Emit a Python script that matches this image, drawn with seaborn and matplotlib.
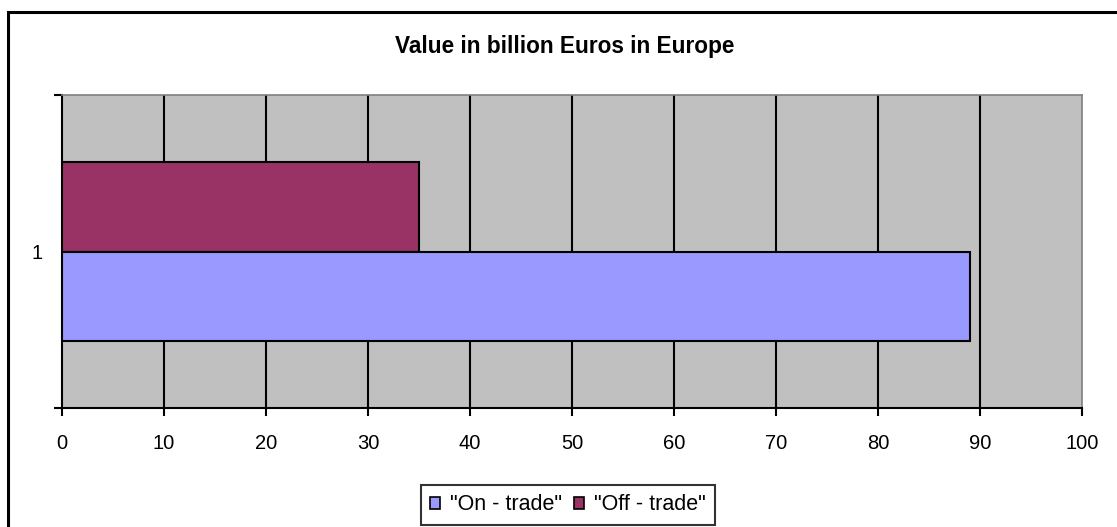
import matplotlib
matplotlib.use("Agg")
import matplotlib.pyplot as plt
from matplotlib.patches import Rectangle, Patch
import seaborn as sns
import pandas as pd

categories = ["1"]
on_trade = [89]
off_trade = [35]
series_names = ['"On - trade"', '"Off - trade"']
x_ticks = [0, 10, 20, 30, 40, 50, 60, 70, 80, 90, 100]
title = "Value in billion Euros in Europe"

colors = {series_names[0]: "#9999FF", series_names[1]: "#993366"}

df = pd.DataFrame({
    "category": categories * 2,
    "value": on_trade + off_trade,
    "series": [series_names[0]] * len(categories) + [series_names[1]] * len(categories),
})

sns.set_theme(style="white")
plt.rcParams["font.family"] = ["Liberation Sans", "DejaVu Sans"]
plt.rcParams["text.color"] = "black"
plt.rcParams["xtick.color"] = "black"
plt.rcParams["ytick.color"] = "black"

W, H = 1117, 527
fig = plt.figure(figsize=(W / 100, H / 100), dpi=100)
fig.patch.set_facecolor("white")
ax = fig.add_axes([62 / W, 1 - 408 / H, (1082 - 62) / W, (408 - 95) / H])
ax.set_facecolor("#C0C0C0")

sns.barplot(data=df, x="value", y="category", hue="series",
            hue_order=[series_names[1], series_names[0]],
            palette=colors, saturation=1, orient="h", width=0.8,
            edgecolor="black", linewidth=1.5, ax=ax, legend=False, zorder=3)

ax.set_xlim(0, 100)
ax.set_ylim(0.697, -0.697)
ax.set_xticks(x_ticks)
ax.set_xticklabels([str(t) for t in x_ticks], fontsize=14.5)
ax.set_yticks([0.697, -0.697], minor=False)
ax.set_yticklabels(["", ""])
ax.set_yticks([0], minor=True)
ax.set_yticklabels(categories, minor=True, fontsize=14.5)
ax.tick_params(axis="y", which="minor", length=0, pad=14)
ax.tick_params(axis="y", which="major", length=6, width=1.5, color="black", direction="out", left=True)
ax.tick_params(axis="x", length=6, width=1.5, color="black", direction="out", bottom=True, pad=13)
ax.set_xlabel("")
ax.set_ylabel("")

for t in x_ticks[1:-1]:
    ax.axvline(t, color="black", linewidth=1.5, zorder=1)

for side in ["left", "bottom"]:
    ax.spines[side].set_color("black")
    ax.spines[side].set_linewidth(1.5)
for side in ["top", "right"]:
    ax.spines[side].set_color("#808080")
    ax.spines[side].set_linewidth(1.2)

fig.text(565 / W, 1 - 46 / H, title, ha="center", va="center",
         fontsize=16.3, fontweight="bold", color="black")

handles = [Patch(facecolor=colors[n], edgecolor="black", linewidth=1.2) for n in series_names]
leg = fig.legend(handles, series_names, loc="center", bbox_to_anchor=(568 / W, 1 - 505 / H),
                 ncol=2, frameon=True, fontsize=15.5, handlelength=0.47, handleheight=0.47,
                 handletextpad=0.47, columnspacing=0.56, borderpad=0.42, fancybox=False)
leg.get_frame().set_edgecolor("black")
leg.get_frame().set_linewidth(1.5)
for txt in leg.get_texts():
    txt.set_color("black")

fig.patches.append(Rectangle((8 / W, -0.2), 2, 1 - 12 / H + 0.2, transform=fig.transFigure,
                             fill=False, edgecolor="black", linewidth=2.2, clip_on=False))

fig.savefig("out.png", dpi=100)
